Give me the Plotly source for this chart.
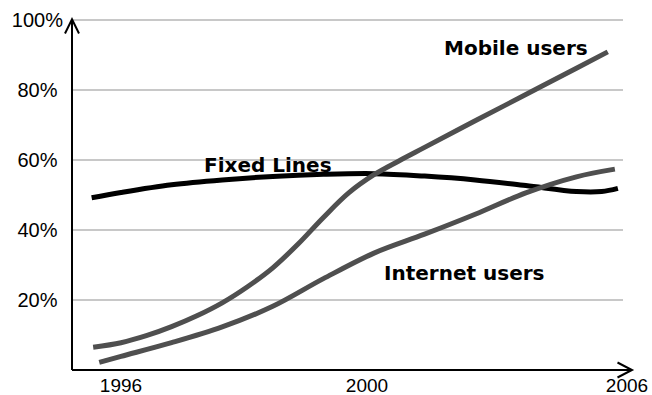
import plotly.graph_objects as go

# ---- data (years, percent) ----
mobile_years = [1995.45, 1996, 1996.5, 1997, 1997.5, 1998, 1998.5, 1999, 1999.5, 2000, 2000.5,
                2001, 2001.5, 2002, 2003, 2004, 2005, 2005.62]
mobile_vals = [6.5, 7.8, 9.8, 12.4, 15.5, 19.2, 23.8, 29.2, 36.0, 43.6, 50.6,
               55.8, 59.8, 63.6, 71.2, 78.7, 86.2, 90.9]

internet_years = [1995.57, 1996, 1997, 1998, 1999, 2000, 2001, 2002, 2003, 2004, 2005, 2005.76]
internet_vals = [2.2, 3.9, 7.8, 12.3, 18.2, 26.1, 33.4, 38.8, 44.5, 50.6, 55.2, 57.4]

fixed_years = [1995.42, 1996, 1997, 1998, 1999, 2000, 2001, 2002, 2003, 2004, 2005, 2005.5, 2005.82]
fixed_vals = [49.2, 50.7, 52.9, 54.3, 55.3, 55.9, 56.1, 55.4, 54.3, 52.7, 51.0, 51.0, 51.9]

y_ticks = [20, 40, 60, 80, 100]
y_tick_labels = ["20%", "40%", "60%", "80%", "100%"]
x_tick_labels = ["1996", "2000", "2006"]

# ---- layout geometry (pixels) ----
W, H = 652, 395
L, R, T, B = 72, 12, 20, 25
PW, PH = W - L - R, H - T - B
PX_PER_YEAR = 50.6
X0_YEAR = 1996 + (L - 121) / PX_PER_YEAR
X1_YEAR = X0_YEAR + PW / PX_PER_YEAR
x_tick_pos = [1996 + (p - 121) / PX_PER_YEAR for p in (121, 367, 627)]

def px(x):
    return (x - L) / PW

def py(y):
    return (H - B - y) / PH

GRAY = "#4f4f4f"
fig = go.Figure()
fig.add_trace(go.Scatter(x=fixed_years, y=fixed_vals, mode="lines",
                         line=dict(color="#000000", width=5, shape="spline", smoothing=1.0)))
fig.add_trace(go.Scatter(x=internet_years, y=internet_vals, mode="lines",
                         line=dict(color=GRAY, width=5, shape="spline", smoothing=1.0)))
fig.add_trace(go.Scatter(x=mobile_years, y=mobile_vals, mode="lines",
                         line=dict(color=GRAY, width=5, shape="spline", smoothing=1.0)))

shapes = []
# horizontal gridlines
for v in y_ticks:
    shapes.append(dict(type="line", xref="paper", yref="paper", x0=0, x1=px(623),
                       y0=v / 100, y1=v / 100, line=dict(color="#c8c8c8", width=2), layer="below"))
axis_line = dict(color="#000000", width=2)
# y axis with arrow
shapes.append(dict(type="line", xref="paper", yref="paper", x0=0, x1=0, y0=0, y1=py(19.3), line=axis_line))
shapes.append(dict(type="path", xref="paper", yref="paper",
                   path=f"M {px(65)} {py(33.5)} L {px(72)} {py(19.3)} L {px(79)} {py(33.5)}",
                   line=axis_line))
# x axis with arrow
shapes.append(dict(type="line", xref="paper", yref="paper", x0=0, x1=px(632), y0=0, y1=0, line=axis_line))
shapes.append(dict(type="path", xref="paper", yref="paper",
                   path=f"M {px(617.5)} {py(362.5)} L {px(632)} {py(370)} L {px(617.5)} {py(377.5)}",
                   line=axis_line))

label_font = dict(family="DejaVu Sans", size=20, color="#000000", weight="bold")
annotations = [
    dict(text="Mobile users", x=px(516), y=py(48)),
    dict(text="Fixed Lines", x=px(268), y=py(165)),
    dict(text="Internet users", x=px(464), y=py(272.5)),
]
for a in annotations:
    a.update(xref="paper", yref="paper", xanchor="center", yanchor="middle",
             showarrow=False, font=label_font)

tick_font = dict(family="Arial", size=20, color="#000000")
x_tick_font = dict(family="Arial", size=19, color="#000000")
# labels in the reference are centred in the margin: pad the shorter ones
y_tick_text = [t if len(t) > 3 else t + "\u00a0" for t in y_tick_labels]
fig.update_layout(
    width=W, height=H,
    margin=dict(l=L, r=R, t=T, b=B, pad=0, autoexpand=False),
    paper_bgcolor="white", plot_bgcolor="white",
    showlegend=False,
    shapes=shapes, annotations=annotations,
    font=tick_font,
    xaxis=dict(range=[X0_YEAR, X1_YEAR], tickmode="array", tickvals=x_tick_pos, ticktext=x_tick_labels,
               showgrid=False, zeroline=False, showline=False, ticks="", ticklabelstandoff=2,
               tickfont=x_tick_font, automargin=False),
    yaxis=dict(range=[0, 100], tickmode="array", tickvals=y_ticks, ticktext=y_tick_text,
               showgrid=False, zeroline=False, showline=False, ticks="", ticklabelstandoff=8,
               tickfont=tick_font, automargin=False),
)

fig.write_html("out.html")
